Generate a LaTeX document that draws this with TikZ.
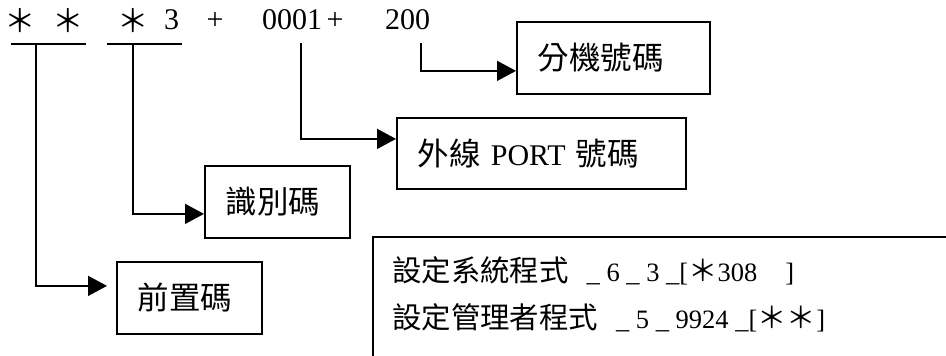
\documentclass[tikz,border=0pt]{standalone}
\usepackage{fontspec}
\setmainfont{Liberation Serif}
\newfontfamily\cjk[Scale=1.05]{Noto Sans CJK TC}
\newfontfamily\cjkb[Scale=1.11]{Noto Sans CJK TC}
\usetikzlibrary{arrows.meta,calc}
\tikzset{
  conn/.style={line width=1.5pt, line cap=rect},
  arr/.style={conn, -{Triangle[length=19pt,width=20pt]}},
  box/.style={draw, line width=1.8pt, inner xsep=21pt, inner ysep=0pt, align=left,
              minimum height=72pt, font=\fontsize{30}{36}\selectfont},
  toptext/.style={inner sep=0pt, font=\fontsize{30}{36}\selectfont},
  btext/.style={inner sep=0pt, anchor=base west, font=\fontsize{26.5}{30}\selectfont}
}
\begin{document}
\begin{tikzpicture}[x=1pt,y=-1pt]
\useasboundingbox (0,0) rectangle (946,356);
% top code line
\node[toptext] (s1) at (20,21) {\cjk ＊};
\node[toptext] (s2) at (68,21) {\cjk ＊};
\node[toptext] (s3) at (133,21) {\cjk ＊};
\node[toptext, anchor=base west] (n3) at (164,30) {3};
\node[toptext, anchor=base] (p1) at (215,30) {+};
\node[toptext, anchor=base west] (n1) at (262,30) {0001};
\node[toptext, anchor=base] (p2) at (335,30) {+};
\node[toptext, anchor=base west] (n2) at (385,30) {200};
% boxes
\node[box, text width=151pt, anchor=north west] (ext) at (516,21) {\cjk 分機號碼};
\node[box, text width=247pt, minimum height=71pt, anchor=north west] (port) at (396,117) {{\cjk 外線} PORT {\cjk 號碼}};
\node[box, text width=103pt, anchor=north west] (idc) at (204,165) {\cjk 識別碼};
\node[box, text width=103pt, anchor=north west] (pre) at (116,261) {\cjk 前置碼};
% bottom box (partly outside)
\coordinate (bb1) at (373,356);
\coordinate (bb2) at (373,237);
\coordinate (bb3) at (946,237);
\draw[line width=1.8pt] (bb1) -- (bb2) -- (bb3);
\node[btext] (l1) at (392,281) {{\cjkb 設定系統程式}\hspace{18pt}\_ 6 \_ 3 \_[{\cjkb ＊}308\hspace{28pt}]};
\node[btext] (l2) at (392,328) {{\cjkb 設定管理者程式}\hspace{18pt}\_ 5 \_ 9924 \_[{\cjkb ＊＊}]};
% underlines and connectors
\coordinate (ua) at (12,44);
\coordinate (ub) at (85,44);
\coordinate (uc) at (108,44);
\coordinate (ud) at (181,44);
\coordinate (m1) at (36,44);
\coordinate (m2) at (133,44);
\coordinate (m3) at (301,44);
\coordinate (m4) at (421,44);
\draw[conn] (ua) -- (ub);
\draw[conn] (uc) -- (ud);
\draw[arr, shorten >=9pt] (m1) |- ($(pre.west)+(0,-12)$);
\draw[arr] (m2) |- ($(idc.west)+(0,12)$);
\draw[arr] (m3) |- ($(port.west)+(0,-14.5)$);
\draw[arr] (m4) |- ($(ext.west)+(0,13)$);
\end{tikzpicture}
\end{document}
